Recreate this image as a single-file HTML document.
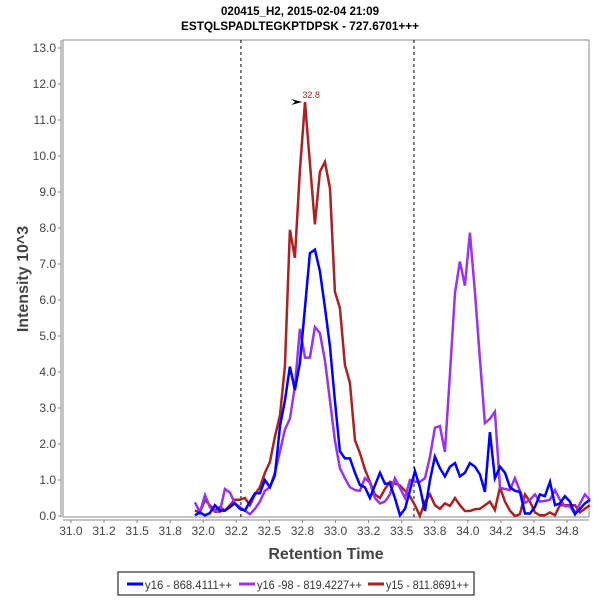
<!DOCTYPE html>
<html><head><meta charset="utf-8"><style>
body{margin:0;background:#fff;width:600px;height:600px;overflow:hidden;font-family:"Liberation Sans",sans-serif}
</style></head><body>
<svg id="chart" width="600" height="600" xmlns="http://www.w3.org/2000/svg" font-family="Liberation Sans, sans-serif">
<text x="300" y="15" text-anchor="middle" font-size="12" font-weight="bold" textLength="158" lengthAdjust="spacingAndGlyphs">020415_H2, 2015-02-04 21:09</text>
<text x="300" y="30" text-anchor="middle" font-size="12" font-weight="bold" textLength="238" lengthAdjust="spacingAndGlyphs">ESTQLSPADLTEGKPTDPSK - 727.6701+++</text>
<rect x="63" y="40" width="526" height="477" fill="#fff" stroke="#888" stroke-width="1"/>
<g id="yaxis"></g>
<g id="xaxis"></g>
<g id="series"></g>
<text transform="translate(28,279) rotate(-90)" text-anchor="middle" font-size="16" font-weight="bold" fill="#444">Intensity 10^3</text>
<text x="326" y="559" text-anchor="middle" font-size="16" font-weight="bold" fill="#444">Retention Time</text>
<g>
<rect x="118" y="572" width="356" height="23" fill="#fff" stroke="#000" stroke-width="1"/>
<line x1="127" y1="584" x2="143" y2="584" stroke="#0000ff" stroke-width="3"/>
<text x="145" y="589" font-size="12" fill="#333" textLength="87" lengthAdjust="spacingAndGlyphs">y16 - 868.4111++</text>
<line x1="239" y1="584" x2="255" y2="584" stroke="#9933ee" stroke-width="3"/>
<text x="257" y="589" font-size="12" fill="#333" textLength="105" lengthAdjust="spacingAndGlyphs">y16 -98 - 819.4227++</text>
<line x1="368" y1="584" x2="384" y2="584" stroke="#aa2222" stroke-width="3"/>
<text x="386" y="589" font-size="12" fill="#333" textLength="83" lengthAdjust="spacingAndGlyphs">y15 - 811.8691++</text>
</g>
</svg>
<script>
const times=[31.937,31.975,32.013,32.050,32.088,32.126,32.164,32.202,32.239,32.277,32.315,32.353,32.391,32.428,32.466,32.504,32.542,32.580,32.617,32.655,32.693,32.731,32.769,32.806,32.844,32.882,32.920,32.958,32.995,33.033,33.071,33.109,33.147,33.184,33.222,33.260,33.298,33.336,33.373,33.411,33.449,33.487,33.525,33.562,33.600,33.638,33.676,33.714,33.751,33.789,33.827,33.865,33.903,33.940,33.978,34.016,34.054,34.092,34.129,34.167,34.205,34.243,34.281,34.318,34.356,34.394,34.432,34.470,34.507,34.545,34.583,34.621,34.659,34.696,34.734,34.772,34.810,34.848,34.885,34.923];
const y16=[.02,.1,.02,.08,.3,.15,.15,.25,.35,.2,.15,.4,.63,.63,1.0,.8,1.13,2.5,3.2,4.15,3.5,4.25,5.8,7.3,7.4,6.8,5.8,4.7,3.2,1.8,1.6,1.6,1.2,.86,.8,.5,.85,1.2,.9,.9,.5,.02,.2,.7,1.25,.8,.14,1.0,1.65,1.33,1.1,1.37,1.47,1.1,1.2,1.47,1.37,1.15,.67,2.33,1.05,1.37,1.2,.8,.7,.67,.07,.07,.25,.6,.55,.95,.3,.35,.55,.4,.05,.2,.35,.45];
const y16m98=[.38,.1,.58,.25,.12,.12,.75,.65,.35,.25,.15,.05,.2,.4,.7,.8,1.2,1.8,2.4,2.7,3.6,5.2,4.4,4.4,5.25,5.08,4.33,3.2,2.1,1.33,1.05,.8,.72,.7,1.05,.92,.5,.35,.4,.6,1.05,.78,.5,1.0,.95,.95,1.05,1.65,2.45,2.5,1.78,3.97,6.2,7.07,6.4,7.87,6.2,4.33,2.58,2.7,2.9,.78,.75,.72,1.05,.7,.36,.45,.6,.4,.42,.45,.72,.45,.27,.27,.05,.35,.6,.45];
const y15=[.15,.1,.45,.3,.15,.25,.15,.3,.45,.45,.5,.3,.6,.8,1.2,1.5,2.2,2.8,4.15,7.95,7.17,9.6,11.5,9.8,8.1,9.56,9.84,9.1,6.23,5.78,4.2,3.7,2.1,1.75,1.3,.95,.6,.5,.75,.95,.9,.85,.7,.55,.3,0,.4,.6,.3,.2,.35,.28,.5,.3,.14,.14,.19,.2,.3,.4,.17,.8,.4,.15,0,.05,.6,.4,.1,.02,.02,.1,.02,.3,.3,.3,.3,.1,.2,.3];
const yTicks=[0,1,2,3,4,5,6,7,8,9,10,11,12,13];
const xTicks=[31.0,31.25,31.5,31.75,32.0,32.25,32.5,32.75,33.0,33.25,33.5,33.75,34.0,34.25,34.5,34.75];
const xTickLabels=["31.0","31.2","31.5","31.8","32.0","32.2","32.5","32.8","33.0","33.2","33.5","33.8","34.0","34.2","34.5","34.8"];
const boundaries=[32.285,33.593];
const peakTime=32.77, peakValue=11.5, peakLabel="32.8";
const NS="http://www.w3.org/2000/svg";
const X0=63,X1=589,Y0=40,Y1=517,TMIN=30.94,TMAX=34.916;
function sx(t){return X0+(t-TMIN)/(TMAX-TMIN)*(X1-X0);}
function sy(v){return 516-v/13*468;}
function mk(tag,attrs,parent){const e=document.createElementNS(NS,tag);for(const k in attrs)e.setAttribute(k,attrs[k]);parent.appendChild(e);return e;}
const ya=document.getElementById('yaxis'),xa=document.getElementById('xaxis'),sg=document.getElementById('series');
mk('line',{x1:61,y1:Y0,x2:61,y2:Y1,stroke:'#888'},ya);
yTicks.forEach(v=>{const y=sy(v);
 mk('line',{x1:58,y1:y,x2:61,y2:y,stroke:'#888'},ya);
 const t=mk('text',{x:56,y:y+4,'text-anchor':'end','font-size':12,fill:'#444'},ya);t.textContent=v.toFixed(1);
 
 
});
mk('line',{x1:X0,y1:520,x2:X1,y2:520,stroke:'#888'},xa);
xTicks.forEach((v,i)=>{const x=sx(v);
 mk('line',{x1:x,y1:520,x2:x,y2:523,stroke:'#888'},xa);
 const t=mk('text',{x:x,y:535,'text-anchor':'middle','font-size':12,fill:'#444'},xa);t.textContent=xTickLabels[i];
 
 
});
boundaries.forEach(b=>{const l=mk('line',{x1:sx(b),y1:Y0,x2:sx(b),y2:Y1,stroke:'#000','stroke-dasharray':'3,3','stroke-width':1},sg);
 
 
});
[[y15,'#aa2222','series-y15'],[y16m98,'#9933ee','series-y16-98'],[y16,'#0000ff','series-y16']].forEach(([d,c,n])=>{
 const p=mk('polyline',{points:d.map((v,i)=>sx(times[i]).toFixed(1)+','+sy(v).toFixed(1)).join(' '),fill:'none',stroke:c,'stroke-width':2.5,'stroke-linejoin':'miter'},sg);
 
 
});
const px=sx(peakTime),py=sy(peakValue);
const ar=mk('polygon',{points:`${px-14},${py-3} ${px-3},${py} ${px-14},${py+3} ${px-10},${py}`,fill:'#000'},sg);


const pl=mk('text',{x:px+6,y:py-4,'text-anchor':'middle','font-size':9,fill:'#aa2222'},sg);pl.textContent=peakLabel;


</script>
</body></html>
